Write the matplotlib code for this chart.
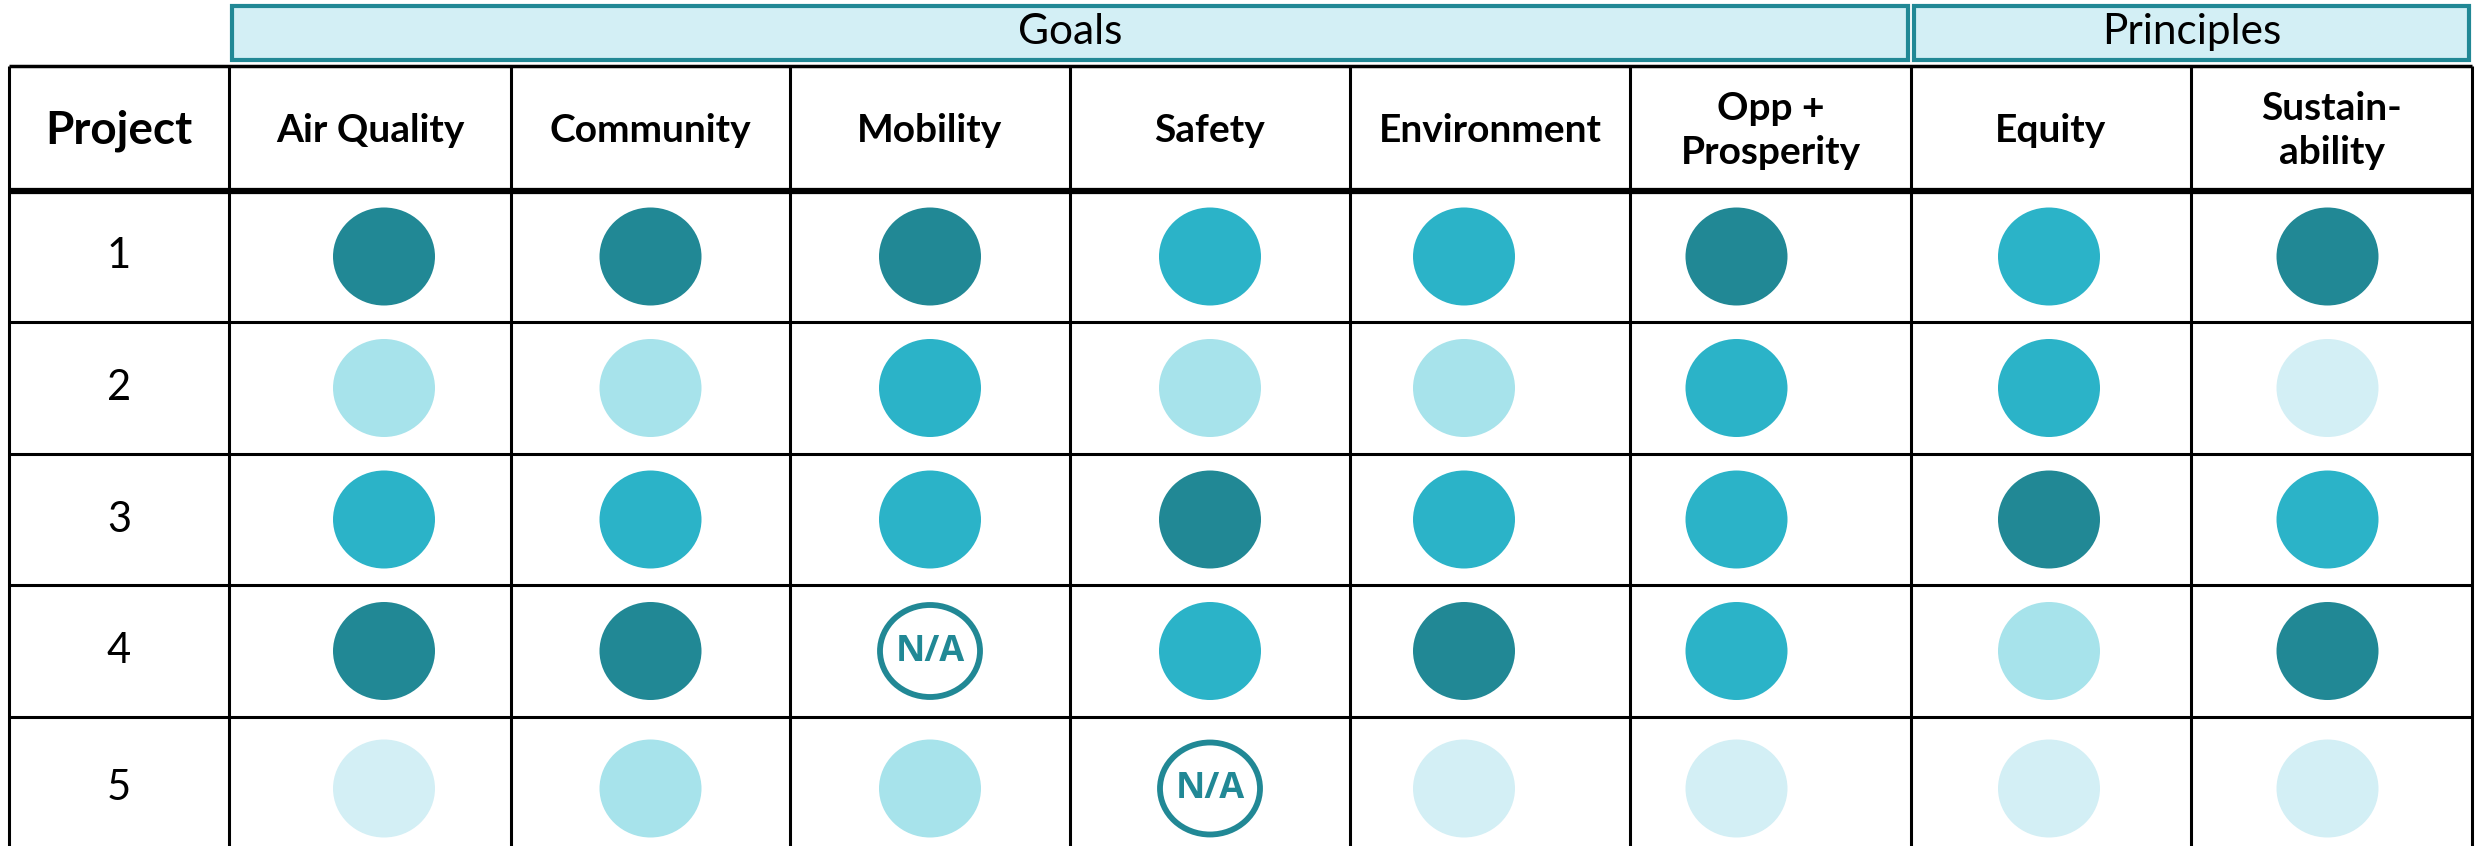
import matplotlib.pyplot as plt
from matplotlib.patches import Ellipse, Rectangle

# table content
projects = ["1", "2", "3", "4", "5"]
columns = ["Air Quality", "Community", "Mobility", "Safety", "Environment",
           "Opp +\nProsperity", "Equity", "Sustain-\nability"]
groups = ["Goals", "Principles"]
group_sizes = [6, 2]

# rating per project (0 = N/A, 1 = lowest ... 4 = highest)
row1 = [4, 4, 4, 3, 3, 4, 3, 4]
row2 = [2, 2, 3, 2, 2, 3, 3, 1]
row3 = [3, 3, 3, 4, 3, 3, 4, 3]
row4 = [4, 4, 0, 3, 4, 3, 2, 4]
row5 = [1, 2, 2, 0, 1, 1, 1, 1]
ratings = [row1, row2, row3, row4, row5]

level_colors = {1: "#d3eff5", 2: "#a7e3eb", 3: "#2bb3c8", 4: "#218895"}
teal = "#218895"

plt.rcParams['font.family'] = ['Lato', 'DejaVu Sans']

fig = plt.figure(figsize=(24.81, 8.46), dpi=100)
ax = fig.add_axes([0, 0, 1, 1])
ax.set_xlim(0, 2481)
ax.set_ylim(846, 0)
ax.axis("off")

# layout (pixels)
col_edges = [9, 229, 511, 790, 1070, 1350, 1630, 1911, 2191, 2472]
row_edges = [66, 191, 322, 454, 585, 717, 860]
# circles are not perfectly centred in a few columns
x_shift = [14, 0, 0, 0, -26, -34, -2, -4]

# group header boxes
start = 1
for name, n in zip(groups, group_sizes):
    x0 = col_edges[start] + 3
    x1 = col_edges[start + n] - 3
    ax.add_patch(Rectangle((x0, 6), x1 - x0, 54, facecolor="#d3eff5",
                           edgecolor=teal, lw=3))
    ax.text((x0 + x1) / 2, 32, name, ha="center", va="center",
            fontsize=30.5, color="black")
    start += n

# grid lines
for y in row_edges[1:-1]:
    lw = 4.5 if y == row_edges[1] else 2.2
    ax.plot([col_edges[0], col_edges[-1]], [y, y], color="black", lw=lw,
            solid_capstyle="butt")
ax.plot([col_edges[0], col_edges[-1]], [row_edges[0], row_edges[0]],
        color="black", lw=2.5, solid_capstyle="butt")
for x in col_edges:
    ax.plot([x, x], [row_edges[0], row_edges[-1]], color="black", lw=2.2,
            solid_capstyle="butt")

# header row
hy = (row_edges[0] + row_edges[1]) / 2
ax.text((col_edges[0] + col_edges[1]) / 2, hy + 2, "Project", ha="center",
        va="center", fontsize=33, fontweight="bold")
for j, c in enumerate(columns):
    ax.text((col_edges[j + 1] + col_edges[j + 2]) / 2, hy + 2, c,
            ha="center", va="center", fontsize=28, fontweight="bold",
            linespacing=1.3)

# body
for i, p in enumerate(projects):
    cy = (row_edges[i + 1] + row_edges[i + 2]) / 2
    ax.text((col_edges[0] + col_edges[1]) / 2, cy, p, ha="center",
            va="center", fontsize=30)
    for j, v in enumerate(ratings[i]):
        cx = (col_edges[j + 1] + col_edges[j + 2]) / 2 + x_shift[j]
        if v == 0:
            ax.add_patch(Ellipse((cx, cy), 100, 92, facecolor="white",
                                 edgecolor=teal, lw=4.2))
            ax.text(cx, cy + 1, "N/A", ha="center", va="center",
                    fontsize=26, fontweight="bold", color=teal,
                    family=["Open Sans", "DejaVu Sans"])
        else:
            ax.add_patch(Ellipse((cx, cy), 102, 98,
                                 facecolor=level_colors[v], edgecolor="none"))

fig.savefig("out.png", dpi=100)
